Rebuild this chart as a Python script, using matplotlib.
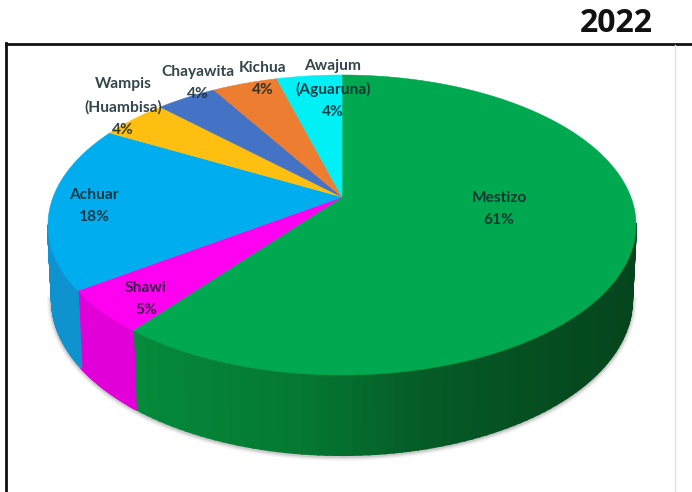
import numpy as np
import matplotlib.pyplot as plt

# Daten
categories = ['Mestizo', 'Shawi', 'Achuar', 'Wampis\n(Huambisa)', 'Chayawita', 'Kichua', 'Awajum\n(Aguaruna)']
values = [60.6, 4.6, 17.8, 4.4, 4.0, 4.3, 4.3]
colors = ['#00A84F', '#FF00F0', '#00AEEF', '#FFBF10', '#4472C4', '#ED7D31', '#00F0F5']
wall_colors = ['#0A8A3C', '#E200D8', '#0F93CE', '#FFBF10', '#4472C4', '#ED7D31', '#00F0F5']
title = '2022'

# Geometrie in Pixeln
cx, cy, rx, ry = 342, 225, 294, 150
low_cy, low_rx, low_ry = 300, 290, 155
apex_shift = 0.0943  # Perspektive: Mitte liegt ueber der Ellipsenmitte
apex = (342, 197)
label_pos = [(499, 209), (146, 299), (94, 206), (123, 107), (198, 83), (263, 79), (333, 89)]


def rim_angle(frac):
    # Anteil im Uhrzeigersinn ab oben -> Winkel auf der Ellipse (perspektivisch)
    t = 2 * np.pi * np.asarray(frac)
    z = np.sin(t) + 1j * np.cos(t)
    a = 1j * apex_shift
    return np.angle((z + a) / (1 + np.conj(a) * z))


def top_xy(phi):
    return cx + rx * np.cos(phi), cy - ry * np.sin(phi)


def low_xy(phi):
    return cx + low_rx * np.cos(phi), low_cy - low_ry * np.sin(phi)


fig = plt.figure(figsize=(6.92, 4.92), dpi=100)
ax = fig.add_axes([0, 0, 1, 1])
ax.set_xlim(0, 692)
ax.set_ylim(492, 0)
ax.axis('off')

edges = np.cumsum([0] + values) / sum(values)

# Schatten unten
phi_low = np.linspace(-np.pi, 0, 300)
xs, ys = low_xy(phi_low)
for lw, al in [(7, 0.05), (5, 0.08), (3, 0.14)]:
    ax.plot(xs, ys + 1, color='#303030', lw=lw, alpha=al, zorder=1)

# Seitenwand, Mestizo mit Verlauf nach rechts dunkler
for i in range(len(values)):
    fr = np.linspace(edges[i], edges[i + 1], 160)
    phi = np.unwrap(rim_angle(fr))
    for p0, p1 in zip(phi[:-1], phi[1:]):
        if np.sin(0.5 * (p0 + p1)) > 0:
            continue
        x0, y0 = top_xy(p0)
        x1, y1 = top_xy(p1)
        x2, y2 = low_xy(p1)
        x3, y3 = low_xy(p0)
        col = wall_colors[i]
        if i == 0:
            g = np.interp(0.5 * (x0 + x1), [135, 300, 420, 520, 640], [138, 120, 92, 80, 68])
            col = (0.02, g / 255, (g * 0.42) / 255)
        ax.fill([x0, x1, x2, x3], [y0, y1, y2, y3], color=col, lw=1.5, zorder=2)

# Deckflaeche
for i in range(len(values)):
    fr = np.linspace(edges[i], edges[i + 1], 160)
    xt, yt = top_xy(np.unwrap(rim_angle(fr)))
    ax.fill(np.r_[apex[0], xt], np.r_[apex[1], yt], color=colors[i], lw=0.4, zorder=3)

# Beschriftung
for name, val, pos in zip(categories, values, label_pos):
    ax.text(pos[0], pos[1], name + '\n' + str(round(val)) + '%', ha='center', va='center',
            family='Lato', fontweight='bold', fontsize=11.2, color='#10252b', alpha=0.85,
            linespacing=1.75, zorder=5)

# Rahmen und Jahr
ax.plot([5.5, 692], [43.5, 43.5], color='#111111', lw=2, zorder=6)
ax.plot([6, 6], [43, 492], color='#111111', lw=2, zorder=6)
ax.plot([675, 675], [45, 492], color='#e2e2e2', lw=1, zorder=6)
ax.text(616.5, 24, title, ha='center', va='center', family='Open Sans', fontweight='bold',
        fontsize=23, color='#111111', zorder=6)

plt.savefig('out.png', dpi=100)
